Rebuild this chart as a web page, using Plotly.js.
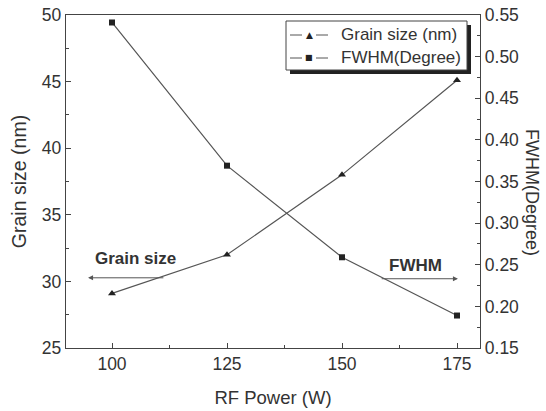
<!DOCTYPE html>
<html>
<head>
<meta charset="utf-8">
<script src="https://cdn.plot.ly/plotly-3.0.1.min.js"></script>
<style>html,body{margin:0;padding:0;background:#fff;}#chart{width:546px;height:411px;}</style>
</head>
<body>
<div id="chart"></div>
<script>
const rfPower = [100, 125, 150, 175];
const grainSize = [29.1, 32.0, 38.0, 45.1];
const fwhm = [0.541, 0.369, 0.259, 0.189];
const xTicks = [100, 125, 150, 175];
const leftTicks = [25, 30, 35, 40, 45, 50];
const rightTicks = [0.15, 0.20, 0.25, 0.30, 0.35, 0.40, 0.45, 0.50, 0.55];
const seriesNames = ['Grain size (nm)', 'FWHM(Degree)'];
const legendGlyphs = ['▲', '■'];

const FONT = 'Liberation Sans, Arial, sans-serif';
const TXT = '#333';
const LINE = '#555';

const W = 546, H = 411;
const M = {l: 66, r: 66, t: 15, b: 63};
const PW = W - M.l - M.r, PH = H - M.t - M.b;
const px2x = px => (px - M.l) / PW;
const py2y = py => (H - M.b - py) / PH;

const traces = [
  {x: rfPower, y: grainSize, name: seriesNames[0], type: 'scatter', mode: 'lines+markers',
   line: {color: LINE, width: 1.2}, marker: {symbol: 'triangle-up', size: 7, color: '#222'}, yaxis: 'y'},
  {x: rfPower, y: fwhm, name: seriesNames[1], type: 'scatter', mode: 'lines+markers',
   line: {color: LINE, width: 1.2}, marker: {symbol: 'square', size: 6, color: '#222'}, yaxis: 'y2'}
];

const axisCommon = {
  showgrid: false, zeroline: false, showline: true, linecolor: '#444', linewidth: 1.3,
  ticks: 'inside', ticklen: 5, tickwidth: 1, tickcolor: '#444',
  tickfont: {family: FONT, size: 17.5, color: TXT}
};

// legend box (drawn as shapes + text so its compact size matches the figure)
const legBox = {x0: 286, x1: 467, y0: 21, y1: 70};
const legRows = [35, 58];
const shapes = [
  {type: 'rect', xref: 'paper', yref: 'paper', layer: 'above',
   x0: px2x(legBox.x0 + 4), x1: px2x(legBox.x1 + 4), y0: py2y(legBox.y1 + 4), y1: py2y(legBox.y0 + 4),
   fillcolor: '#222', line: {width: 0}},
  {type: 'rect', xref: 'paper', yref: 'paper', layer: 'above',
   x0: px2x(legBox.x0), x1: px2x(legBox.x1), y0: py2y(legBox.y1), y1: py2y(legBox.y0),
   fillcolor: '#fff', line: {color: '#444', width: 1}}
];
legRows.forEach(py => {
  shapes.push({type: 'line', xref: 'paper', yref: 'paper', layer: 'above',
    x0: px2x(290), x1: px2x(302), y0: py2y(py), y1: py2y(py), line: {color: LINE, width: 1}});
  shapes.push({type: 'line', xref: 'paper', yref: 'paper', layer: 'above',
    x0: px2x(316), x1: px2x(328), y0: py2y(py), y1: py2y(py), line: {color: LINE, width: 1}});
});

const legendAnn = [];
seriesNames.forEach((name, i) => {
  legendAnn.push({xref: 'paper', yref: 'paper', x: px2x(309), y: py2y(legRows[i]), xanchor: 'center', yanchor: 'middle',
    text: legendGlyphs[i], showarrow: false, font: {family: 'DejaVu Sans', size: i === 0 ? 9 : 8, color: '#222'}});
  legendAnn.push({xref: 'paper', yref: 'paper', x: px2x(339), y: py2y(legRows[i]), xanchor: 'left', yanchor: 'middle',
    text: name, showarrow: false, font: {family: FONT, size: 17, color: TXT}});
});

const layout = {
  width: W, height: H,
  margin: M,
  paper_bgcolor: '#fff', plot_bgcolor: '#fff',
  font: {family: FONT, color: TXT},
  showlegend: false,
  xaxis: Object.assign({}, axisCommon, {
    range: [90, 180], tickvals: xTicks, ticktext: xTicks.map(String), mirror: true,
    minor: {dtick: 12.5, tick0: 100, ticks: 'inside', ticklen: 3, tickcolor: '#444'},
    title: {text: 'RF Power (W)', font: {family: FONT, size: 18.5, color: TXT}, standoff: 17}
  }),
  yaxis: Object.assign({}, axisCommon, {
    range: [25, 50], tickvals: leftTicks, ticktext: leftTicks.map(String),
    minor: {dtick: 2.5, tick0: 25, ticks: 'inside', ticklen: 3, tickcolor: '#444'},
    title: {text: 'Grain size (nm)', font: {family: FONT, size: 19.5, color: TXT}, standoff: 10}
  }),
  yaxis2: Object.assign({}, axisCommon, {
    overlaying: 'y', side: 'right', range: [0.15, 0.55],
    tickvals: rightTicks, ticktext: rightTicks.map(v => v.toFixed(2)),
    minor: {dtick: 0.025, tick0: 0.15, ticks: 'inside', ticklen: 3, tickcolor: '#444'}
  }),
  annotations: [
    {xref: 'paper', yref: 'paper', x: 1.126, y: 0.468, xanchor: 'center', yanchor: 'middle',
     text: 'FWHM(Degree)', textangle: 90,
     showarrow: false, font: {family: FONT, size: 18, color: TXT}},
    {xref: 'x', yref: 'y', x: 105, y: 31.7, text: '<b>Grain size</b>', showarrow: false,
     font: {family: FONT, size: 17, color: TXT}},
    {xref: 'x', yref: 'y', x: 94.8, y: 30.27, ax: 111.5, ay: 30.27, axref: 'x', ayref: 'y',
     text: '', showarrow: true, arrowhead: 2, arrowsize: 1, arrowwidth: 1, arrowcolor: LINE},
    {xref: 'x', yref: 'y', x: 165.9, y: 31.17, text: '<b>FWHM</b>', showarrow: false,
     font: {family: FONT, size: 17, color: TXT}},
    {xref: 'x', yref: 'y', x: 175.2, y: 30.2, ax: 158.3, ay: 30.2, axref: 'x', ayref: 'y',
     text: '', showarrow: true, arrowhead: 2, arrowsize: 1, arrowwidth: 1, arrowcolor: LINE}
  ].concat(legendAnn),
  shapes: shapes
};

Plotly.newPlot('chart', traces, layout, {displayModeBar: false, staticPlot: true});
</script>
</body>
</html>
